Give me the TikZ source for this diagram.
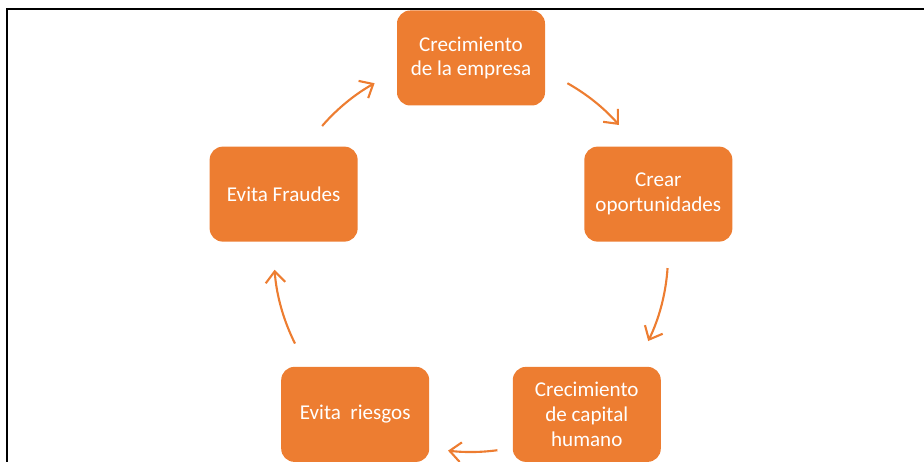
\documentclass[tikz,border=0pt]{standalone}
\usepackage{fontspec}
\setmainfont{Carlito}
\usetikzlibrary{arrows.meta}
\definecolor{cycleorange}{HTML}{ED7D31}
\begin{document}
\begin{tikzpicture}[thick,
    cycle node/.style={rectangle, rounded corners=0.33cm, fill=cycleorange, text=white, align=center,
        minimum width=3.7cm, minimum height=2.375cm, inner sep=2pt, font=\fontsize{15}{17.5}\selectfont},
    cycle arrow/.style={draw=cycleorange, line width=1.5pt, -{Straight Barb[length=8pt,width=14pt,line width=1.5pt]}}]

    \useasboundingbox (-11.775,-5.175) rectangle (11.325,6.375);
    \draw[line width=1.6pt, black] (-11.6,-5.175) -- (-11.6,6.15) -- (11.325,6.15);

    \node[cycle node] at (90:4.925) (empresa) {Crecimiento\\de la empresa};
    \node[cycle node] at (18:4.925) (oportunidades) {Crear\\oportunidades};
    \node[cycle node] at (-54:4.925) (capital) {Crecimiento\\de capital\\humano};
    \node[cycle node] at (-126:4.925) (riesgos) {Evita\ \ riesgos};
    \node[cycle node] at (162:4.925) (fraudes) {Evita Fraudes};

    \coordinate (a1) at (60.7:4.925);
    \coordinate (a2) at (-3.8:4.925);
    \coordinate (a3) at (-82.3:4.925);
    \coordinate (a4) at (-153.3:4.925);
    \coordinate (a5) at (139.1:4.925);

    \draw[cycle arrow] (a1) arc[start angle=60.7, end angle=41.3, radius=4.925];
    \draw[cycle arrow] (a2) arc[start angle=-3.8, end angle=-25.9, radius=4.925];
    \draw[cycle arrow] (a3) arc[start angle=-82.3, end angle=-96.7, radius=4.925];
    \draw[cycle arrow] (a4) arc[start angle=-153.3, end angle=-175.7, radius=4.925];
    \draw[cycle arrow] (a5) arc[start angle=139.1, end angle=119.3, radius=4.925];

\end{tikzpicture}
\end{document}
